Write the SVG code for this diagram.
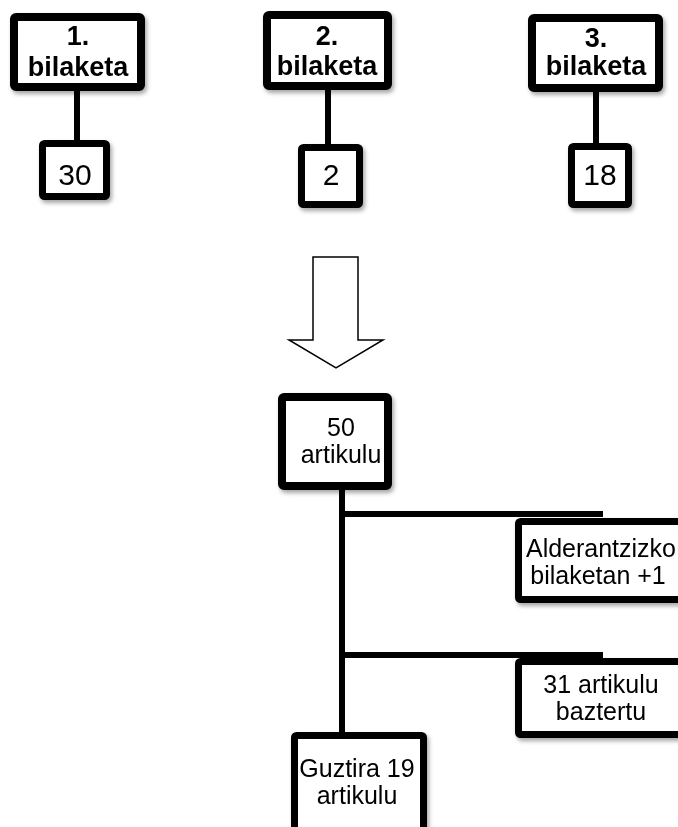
<svg xmlns="http://www.w3.org/2000/svg" width="678" height="827" viewBox="0 0 678 827">
<style>
.box{fill:#fff;stroke:#000;stroke-linejoin:round}
.thick{stroke-width:8}
.med{stroke-width:7}
.h{font-family:"Liberation Sans",Arial,sans-serif;font-weight:bold;font-size:27px;text-anchor:middle;fill:#000}
.n{font-family:"Liberation Sans",Arial,sans-serif;font-size:30px;text-anchor:middle;fill:#000}
.t{font-family:"Liberation Sans",Arial,sans-serif;font-size:25px;text-anchor:middle;fill:#000}
.c{stroke:#000;stroke-width:6;fill:none}
</style>
<defs>
<filter id="sh" x="-20%" y="-20%" width="140%" height="140%">
<feDropShadow dx="2" dy="3" stdDeviation="2" flood-color="#000" flood-opacity="0.35"/>
</filter>
</defs>
<g id="connectors">
<line class="c" x1="77" y1="88" x2="77" y2="142"/>
<line class="c" x1="328" y1="88" x2="328" y2="146"/>
<line class="c" x1="596" y1="88" x2="596" y2="145"/>
<line class="c" x1="342" y1="488" x2="342" y2="734"/>
<line class="c" x1="339" y1="514" x2="603" y2="514" stroke-width="5"/>
<line class="c" x1="339" y1="655" x2="603" y2="655" stroke-width="5"/>
<polygon points="313,257 358,257 358,340 383,340 336,368 289,340 313,340" fill="#fff" stroke="#000" stroke-width="1.5"/>
</g>
<g id="b1" filter="url(#sh)">
<rect class="box thick" x="14" y="17" width="127" height="70" rx="2"/>
<text class="h" x="78" y="45">1.</text>
<text class="h" x="78" y="76">bilaketa</text>
</g>
<g id="b2" filter="url(#sh)">
<rect class="box thick" x="267" y="15" width="121" height="71" rx="2"/>
<text class="h" x="327" y="45">2.</text>
<text class="h" x="327" y="75">bilaketa</text>
</g>
<g id="b3" filter="url(#sh)">
<rect class="box thick" x="532" y="18" width="127" height="70" rx="2"/>
<text class="h" x="596" y="47">3.</text>
<text class="h" x="596" y="75">bilaketa</text>
</g>
<g id="n30" filter="url(#sh)">
<rect class="box med" x="42.5" y="143.5" width="64" height="53" rx="2"/>
<text class="n" x="75" y="185">30</text>
</g>
<g id="n2" filter="url(#sh)">
<rect class="box med" x="301.5" y="147.5" width="58" height="57" rx="2"/>
<text class="n" x="331" y="185">2</text>
</g>
<g id="n18" filter="url(#sh)">
<rect class="box med" x="571.5" y="146.5" width="57" height="58" rx="2"/>
<text class="n" x="600" y="185">18</text>
</g>
<g id="b50" filter="url(#sh)">
<rect class="box thick" x="282" y="397" width="106" height="89" rx="2"/>
<text class="t" x="341" y="436">50</text>
<text class="t" x="341" y="463">artikulu</text>
</g>
<g id="bald" filter="url(#sh)">
<rect class="box med" x="518.5" y="521.5" width="170" height="78" rx="2"/>
<text class="t" x="601" y="557">Alderantzizko</text>
<text class="t" x="598" y="584">bilaketan +1</text>
</g>
<g id="b31" filter="url(#sh)">
<rect class="box med" x="518.5" y="661.5" width="170" height="73" rx="2"/>
<text class="t" x="601" y="693">31 artikulu</text>
<text class="t" x="601" y="720">baztertu</text>
</g>
<g id="bguz" filter="url(#sh)">
<rect class="box med" x="294.5" y="735.5" width="129" height="100" rx="2"/>
<text class="t" x="357" y="777">Guztira 19</text>
<text class="t" x="357" y="804">artikulu</text>
</g>
</svg>
